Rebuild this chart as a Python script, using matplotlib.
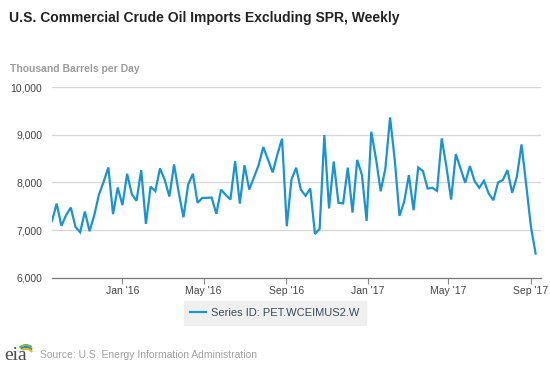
import matplotlib
matplotlib.use("Agg")
import matplotlib.pyplot as plt
import numpy as np
import pandas as pd
from matplotlib.patches import Arc

plt.rcParams["font.family"] = ["Liberation Sans", "DejaVu Sans"]

# weekly data, first week ending 2015-09-18
start_date = "2015-09-18"
imports_kbd = [
    7192, 7557, 7088, 7313, 7474, 7067, 6955, 7390, 6976, 7313,
    7748, 8015, 8317, 7334, 7895, 7523, 8183, 7755, 7615, 8261,
    7130, 7915, 7818, 8296, 8057, 7706, 8380, 7782, 7270, 7959,
    8183, 7572, 7677, 7677, 7684, 7341, 7850, 7740, 7641, 8448,
    7557, 8364, 7852, 8105, 8365, 8745, 8480, 8211, 8590, 8920,
    7080, 8065, 8310, 7850, 7720, 7874, 6920, 7025, 8996, 7455,
    8440, 7575, 7560, 8312, 7368, 8475, 8160, 7194, 9066, 8500,
    7815, 8295, 9368, 8470, 7299, 7594, 8155, 7418, 8316, 8239,
    7874, 7888, 7825, 8927, 8330, 7642, 8597, 8295, 7994, 8345,
    8029, 7888, 8036, 7769, 7629, 8000, 8050, 8260, 7783, 8120,
    8800, 7944, 7067, 6506,
]
tick_dates = ["2016-01-01", "2016-05-01", "2016-09-01", "2017-01-01", "2017-05-01", "2017-09-01"]
tick_labels = ["Jan '16", "May '16", "Sep '16", "Jan '17", "May '17", "Sep '17"]
y_ticks = [6000, 7000, 8000, 9000, 10000]

dates = pd.date_range(start_date, periods=len(imports_kbd), freq="7D")
line_color = "#1a93d1"

fig = plt.figure(figsize=(5.5, 3.66), dpi=100)
ax = fig.add_axes([52 / 550, 1 - 277.7 / 366, 489 / 550, 190.4 / 366])

ax.plot(dates, imports_kbd, color=line_color, lw=1.6, solid_joinstyle="miter",
        label="Series ID: PET.WCEIMUS2.W", zorder=3)

ax.set_ylim(6000, 10000)
ax.set_xlim(dates[0], dates[-1] + pd.Timedelta(days=8))
ax.set_yticks(y_ticks)
ax.set_yticklabels([f"{v:,}" for v in y_ticks])
ax.set_xticks(pd.to_datetime(tick_dates))
ax.set_xticklabels(tick_labels)

for v in y_ticks[1:]:
    ax.axhline(v, color="#d6d6d6", lw=0.9, zorder=1)

for s in ["top", "right", "left"]:
    ax.spines[s].set_visible(False)
ax.spines["bottom"].set_color("#777777")
ax.spines["bottom"].set_linewidth(0.9)

ax.tick_params(axis="y", length=0, pad=7, labelsize=7.5, labelcolor="#444444")
ax.tick_params(axis="x", length=4, width=0.8, color="#888888", pad=2,
               labelsize=7.5, labelcolor="#444444")

fig.text(9 / 550, 1 - 18 / 366, "U.S. Commercial Crude Oil Imports Excluding SPR, Weekly",
         fontsize=10, fontweight="bold", color="#222222", va="center", ha="left")
fig.text(10 / 550, 1 - 69 / 366, "Thousand Barrels per Day",
         fontsize=7.5, fontweight="bold", color="#9a9a9a", va="center", ha="left")

leg = ax.legend(loc="center", bbox_to_anchor=(275 / 550, 1 - 313 / 366),
                bbox_transform=fig.transFigure, frameon=True, fontsize=8,
                handlelength=1.4, handletextpad=0.5, borderpad=0.6, fancybox=False)
leg.get_frame().set_facecolor("#ececec")
leg.get_frame().set_edgecolor("#ececec")
for t in leg.get_texts():
    t.set_color("#3c4a5a")

fig.text(40 / 550, 1 - 355 / 366, "Source: U.S. Energy Information Administration",
         fontsize=7.5, color="#a0a0a0", va="center", ha="left")

# eia logo
logo = fig.add_axes([4 / 550, 1 - 365 / 366, 30 / 550, 25 / 366])
logo.set_xlim(0, 30)
logo.set_ylim(0, 25)
logo.axis("off")
logo.text(0.5, 1, "eia", family=["Liberation Serif", "DejaVu Serif"], fontsize=14,
          color="#4a4a4a", va="bottom", ha="left")
logo.add_patch(Arc((22, 7), 22, 26, theta1=62, theta2=122, color="#7cb342", lw=1.4))
logo.add_patch(Arc((22, 6), 20, 24, theta1=57, theta2=117, color="#1e88c8", lw=1.4))
logo.add_patch(Arc((22, 5), 18, 22, theta1=52, theta2=110, color="#f5b400", lw=1.4))

fig.savefig("out.png", dpi=100)
